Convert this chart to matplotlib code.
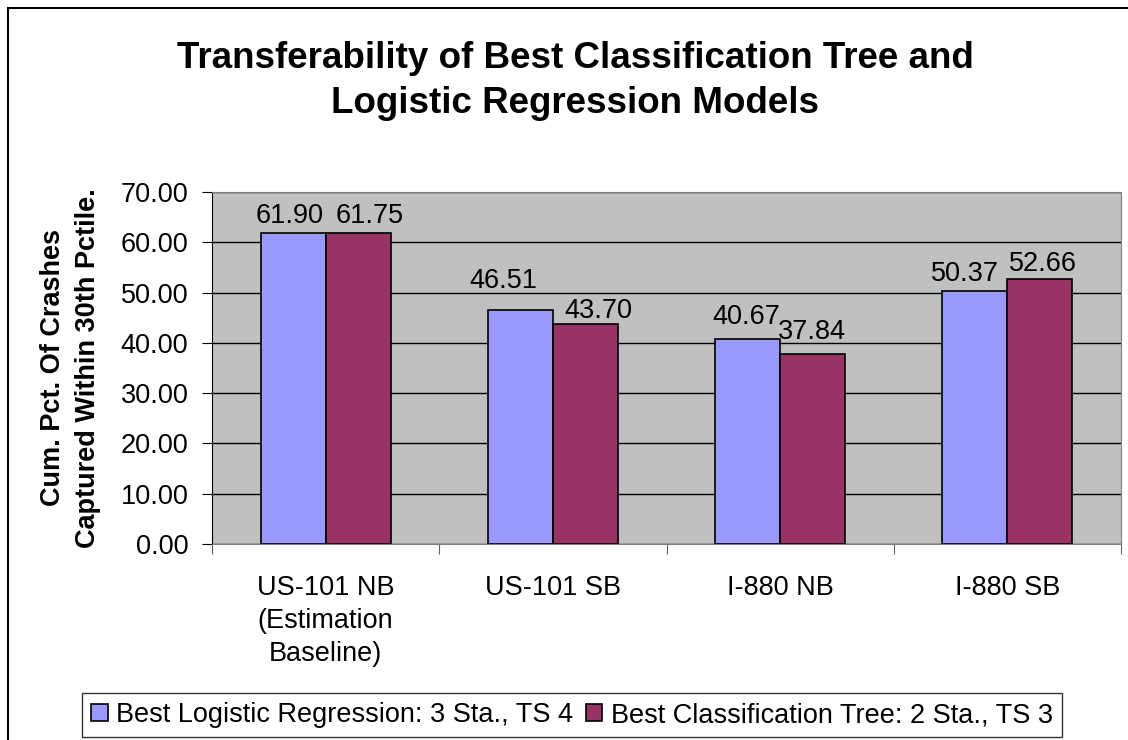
import numpy as np
import matplotlib
matplotlib.use('Agg')
import matplotlib.pyplot as plt
from matplotlib.patches import Rectangle

plt.rcParams['font.family'] = ['Liberation Sans', 'DejaVu Sans']

# data
categories = ["US-101 NB\n(Estimation\nBaseline)", "US-101 SB", "I-880 NB", "I-880 SB"]
logistic = [61.90, 46.51, 40.67, 50.37]
tree = [61.75, 43.70, 37.84, 52.66]
series_names = ["Best Logistic Regression: 3 Sta., TS 4",
                "Best Classification Tree: 2 Sta., TS 3"]
yticks = [0, 10, 20, 30, 40, 50, 60, 70]

# label nudges (px) as placed in the original chart
logistic_nudge = [(-4, 10), (-17, 22), (-1, 15), (-10, 10)]
tree_nudge = [(12, 10), (13, 6), (-1, 15), (3, 8)]

FS = 19.5

fig = plt.figure(figsize=(11.28, 7.4), dpi=100)
# outer chart border (right and bottom run off the image)
fig.patches.append(Rectangle((8 / 1128, -0.05), 1.2, 1.05 - 8 / 740,
                             transform=fig.transFigure, fill=False,
                             edgecolor='black', linewidth=1.5))

ax = fig.add_axes([212 / 1128, 1 - 544 / 740, (1121 - 212) / 1128, (544 - 192) / 740])
ax.set_facecolor('#C0C0C0')

x = np.arange(len(categories))
w = 1 / 3.5
b1 = ax.bar(x - w / 2, logistic, w, color='#9999FF', edgecolor='black', linewidth=1.2,
            label=series_names[0], zorder=3)
b2 = ax.bar(x + w / 2, tree, w, color='#993366', edgecolor='black', linewidth=1.2,
            label=series_names[1], zorder=3)

for bars, nudges in ((b1, logistic_nudge), (b2, tree_nudge)):
    for r, (dx, dy) in zip(bars, nudges):
        ax.annotate(f"{r.get_height():.2f}", (r.get_x() + r.get_width() / 2, r.get_height()),
                    xytext=(dx * 0.72, dy * 0.72), textcoords='offset points',
                    ha='center', va='baseline', fontsize=FS, zorder=4)

ax.set_xlim(-0.5, len(categories) - 0.5)
ax.set_ylim(0, 70)
ax.set_yticks(yticks)
ax.set_yticklabels([f"{v:.2f}" for v in yticks], fontsize=FS)
ax.yaxis.grid(True, color='black', linewidth=1.0, zorder=1)
ax.set_axisbelow(True)

ax.set_xticks(np.arange(len(categories) + 1) - 0.5, minor=False)
ax.set_xticklabels([])
ax.set_xticks(x, minor=True)
ax.set_xticklabels(categories, minor=True, fontsize=FS, linespacing=1.35)
ax.tick_params(axis='x', which='minor', length=0, pad=22)
ax.tick_params(axis='x', which='major', length=7, direction='out', color='#606060')
ax.tick_params(axis='y', length=7, direction='out', pad=10)

for s in ('top', 'right'):
    ax.spines[s].set_color('#808080')
ax.spines['left'].set_color('black')
ax.spines['bottom'].set_color('#808080')

ax.set_ylabel("Cum. Pct. Of Crashes\nCaptured Within 30th Pctile.", fontsize=FS,
              fontweight='bold', labelpad=14, linespacing=1.45)

fig.text(575 / 1128, 1 - 81 / 740, "Transferability of Best Classification Tree and\nLogistic Regression Models",
         ha='center', va='center', fontsize=26.5, fontweight='bold', linespacing=1.38)

leg = fig.legend(loc='center', bbox_to_anchor=(572 / 1128, 1 - 715 / 740), ncol=2,
                 fontsize=FS, frameon=True, fancybox=False, shadow=False,
                 handlelength=0.6, handleheight=0.6, handletextpad=0.3, columnspacing=0.5,
                 borderpad=0.35, borderaxespad=0)
leg.get_frame().set_edgecolor('black')
leg.get_frame().set_linewidth(1.0)

fig.savefig('out.png', dpi=100)
